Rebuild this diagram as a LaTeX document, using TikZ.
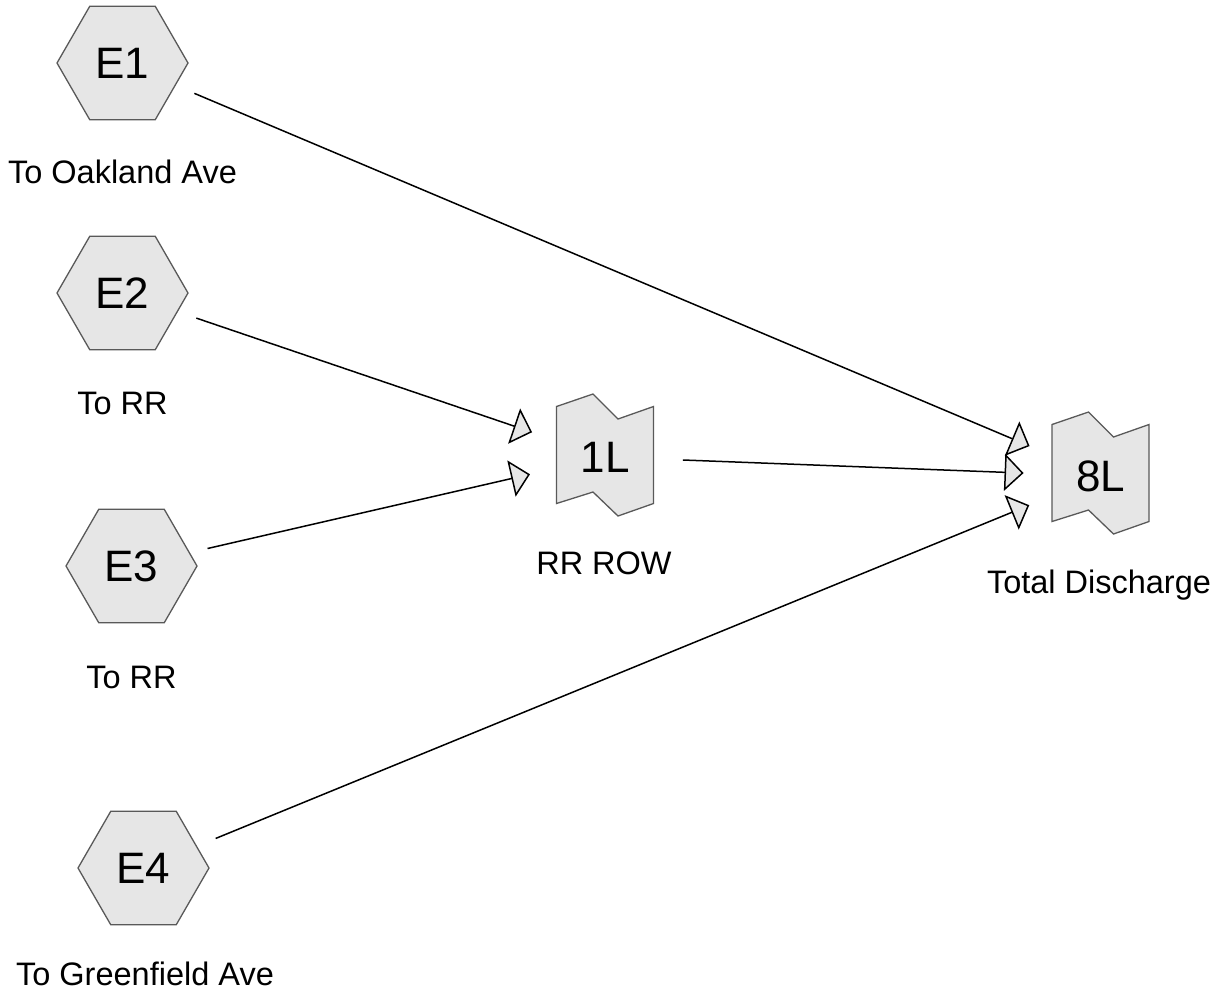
\documentclass[tikz,border=0pt]{standalone}
\usepackage{fontspec}
\setmainfont{Liberation Sans}
\usetikzlibrary{shapes.geometric,arrows.meta}
\definecolor{shapefill}{HTML}{E6E6E6}
\definecolor{shapeline}{HTML}{595959}
\tikzset{
  hexnode/.style={regular polygon, regular polygon sides=6, minimum size=131pt, inner sep=0pt,
    fill=shapefill, draw=shapeline, line width=1.3pt, font=\fontsize{44}{50}\selectfont},
  flagline/.style={fill=shapefill, draw=shapeline, line width=1.3pt, line join=miter},
  flagtext/.style={inner sep=0pt, font=\fontsize{44}{50}\selectfont},
  caption/.style={anchor=base, inner sep=0pt, font=\fontsize{32.5}{38}\selectfont},
  flow/.style={line width=1.5pt, shorten <=78pt, shorten >=77pt,
    -{Triangle[length=19pt,width=37pt,fill=shapefill,line width=1.5pt]}},
}
\newcommand{\flagshape}[1]{\draw[flagline, shift={#1}] (-48.5,-48.5) -- (-12,-61) -- (13,-36) -- (48.5,-48.5) -- (48.5,48.5) -- (13,61) -- (-12,37) -- (-48.5,48.5) -- cycle;}
\begin{document}
\begin{tikzpicture}[x=1pt,y=-1pt]
\path[use as bounding box] (0,0) rectangle (1225,994);
% hexagons
\node[hexnode] (E1) at (122.5,63) {E1};
\node[hexnode] (E2) at (122.5,293) {E2};
\node[hexnode] (E3) at (131.5,566) {E3};
\node[hexnode] (E4) at (143.5,868) {E4};
% flags
\flagshape{(605,455)}
\flagshape{(1100.5,473)}
\node[flagtext] (L1) at (605,457) {1L};
\node[flagtext] (L8) at (1100.5,476) {8L};
% captions
\node[caption] (c1) at (122.5,183) {To Oakland Ave};
\node[caption] (c2) at (122.5,414) {To RR};
\node[caption] (c3) at (131.5,688) {To RR};
\node[caption] (c4) at (145,985) {To Greenfield Ave};
\node[caption] (c5) at (604,574) {RR ROW};
\node[caption] (c6) at (1099,593) {Total Discharge};
% connectors
\draw[flow] (E1.center) -- (L8.center);
\draw[flow] (E2.center) -- (L1.center);
\draw[flow] (E3.center) -- (L1.center);
\draw[flow] (L1.center) -- (L8.center);
\draw[flow] (E4.center) -- (L8.center);
\end{tikzpicture}
\end{document}
